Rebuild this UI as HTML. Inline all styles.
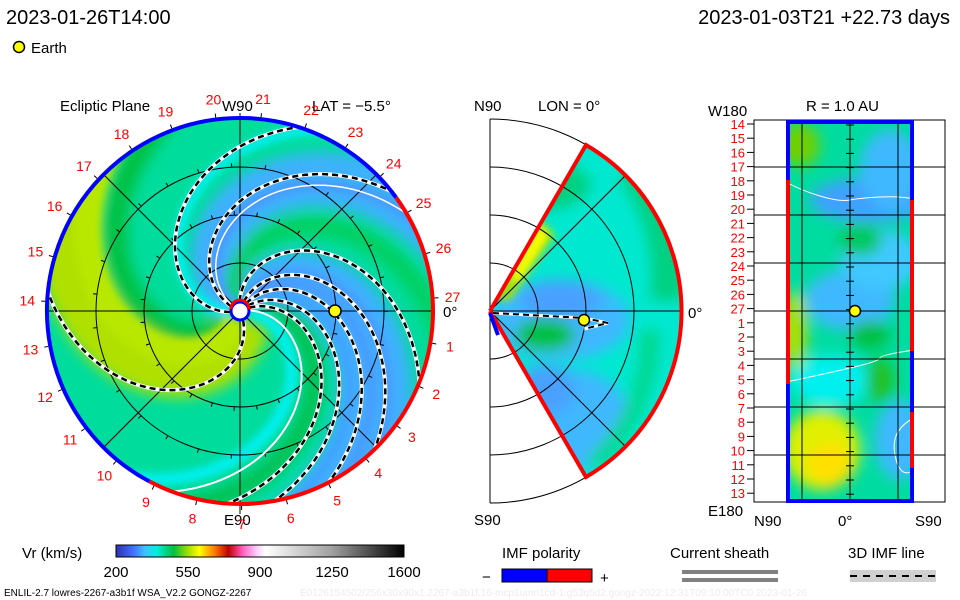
<!DOCTYPE html>
<html><head><meta charset="utf-8"><style>
html,body{margin:0;padding:0;background:#fff;}
svg{display:block;font-family:"Liberation Sans",sans-serif;}
text{font-family:"Liberation Sans",sans-serif;}
</style></head><body>
<svg id="c" width="960" height="600" viewBox="0 0 960 600" xmlns="http://www.w3.org/2000/svg">
<defs>
<clipPath id="disk"><circle cx="240" cy="311" r="193"/></clipPath>
<clipPath id="wedge"><path d="M490,311 L586,145 A192,192 0 0 1 586,477 Z"/></clipPath>
<clipPath id="rect"><rect x="786" y="121" width="128" height="381"/></clipPath>
<filter id="blur" x="-20%" y="-20%" width="140%" height="140%"><feGaussianBlur stdDeviation="7"/></filter>
<filter id="blur2" x="-20%" y="-20%" width="140%" height="140%"><feGaussianBlur stdDeviation="4"/></filter>
<linearGradient id="cbar" x1="0" x2="1" y1="0" y2="0">
<stop offset="0" stop-color="#3030b0"/><stop offset="0.06" stop-color="#4070ff"/><stop offset="0.1" stop-color="#40c0ff"/>
<stop offset="0.14" stop-color="#00f0e0"/><stop offset="0.2" stop-color="#00c040"/><stop offset="0.25" stop-color="#a0e000"/>
<stop offset="0.29" stop-color="#ffff00"/><stop offset="0.34" stop-color="#ff8000"/><stop offset="0.39" stop-color="#c00000"/>
<stop offset="0.44" stop-color="#ff60c0"/><stop offset="0.49" stop-color="#ffd0ff"/><stop offset="0.52" stop-color="#ffffff"/>
<stop offset="0.75" stop-color="#a0a0a0"/><stop offset="1" stop-color="#000000"/></linearGradient>
</defs>

<text x="6" y="24" font-size="20">2023-01-26T14:00</text>
<text x="950" y="24" font-size="20" text-anchor="end">2023-01-03T21 +22.73 days</text>
<circle cx="19" cy="47" r="5.5" fill="#ffff00" stroke="#000" stroke-width="1.5"/>
<text x="31" y="53" font-size="15">Earth</text>

<g>
<text x="60" y="111" font-size="15">Ecliptic Plane</text>
<text x="222" y="111" font-size="15">W90</text>
<text x="312" y="111" font-size="15">LAT = −5.5°</text>
<text x="224" y="525" font-size="15">E90</text>
<text x="443" y="317" font-size="15">0°</text>
<g clip-path="url(#disk)">
<circle cx="240" cy="311" r="193" fill="#00dc9c"/>
<g id="bands" filter="url(#blur)"></g>
<g id="bands2" filter="url(#blur2)"></g>
</g>
<g id="eclgrid"></g>
<g id="spirals" clip-path="url(#disk)"></g>
<g id="rim"></g>
<g id="numlabels"></g>
<circle cx="240" cy="311" r="9" fill="#fff" stroke="#0000ff" stroke-width="3"/>
<path d="M231,309 A9,9 0 0 1 249,309" fill="none" stroke="#f00" stroke-width="3"/>
<circle cx="335" cy="311" r="6" fill="#ffff00" stroke="#000" stroke-width="1.5"/>
</g>

<g>
<text x="474" y="111" font-size="15">N90</text>
<text x="538" y="111" font-size="15">LON = 0°</text>
<text x="474" y="525" font-size="15">S90</text>
<text x="688" y="318" font-size="15">0°</text>
<g clip-path="url(#wedge)">
<rect x="480" y="130" width="220" height="360" fill="#00e8d0"/>
<g filter="url(#blur)">
<ellipse cx="560" cy="320" rx="70" ry="40" fill="#40b8ff"/>
<ellipse cx="570" cy="420" rx="60" ry="50" fill="#40b8ff"/>
<ellipse cx="545" cy="390" rx="30" ry="25" fill="#4aa0ff"/>
<ellipse cx="560" cy="300" rx="40" ry="20" fill="#4aa0ff"/>
<path d="M640,150 A192,192 0 0 1 684,300 L650,300 A160,160 0 0 0 620,180 Z" fill="#00d080"/>
<path d="M660,330 A192,192 0 0 1 600,470 L585,460 A160,160 0 0 0 640,330 Z" fill="#00d890"/>
<ellipse cx="545" cy="335" rx="30" ry="16" fill="#00c040"/>
<ellipse cx="540" cy="185" rx="50" ry="25" fill="#00d080"/>
</g>
<g filter="url(#blur2)">
<path d="M495,300 L540,220 L555,235 L510,300 Z" fill="#a8e000"/>
<path d="M510,280 L540,225 L548,235 L520,280 Z" fill="#ffff00"/>
</g>
</g>
<g id="mergrid"></g>
<path d="M490,311 L586,145 A192,192 0 0 1 586,477 L490,311" fill="none" stroke="#f00" stroke-width="4"/>
<path d="M490,313 L498,335" stroke="#0000ff" stroke-width="4"/>
<path d="M493,313 L584,318 L608,323 L584,329" fill="none" stroke="#fff" stroke-width="3"/>
<path d="M493,313 L584,318 L608,323 L584,329" fill="none" stroke="#000" stroke-width="2" stroke-dasharray="6,4"/>
<circle cx="584" cy="320" r="5.5" fill="#ffff00" stroke="#000" stroke-width="1.5"/>
</g>

<g>
<text x="806" y="111" font-size="15">R = 1.0 AU</text>
<text x="708" y="116" font-size="15">W180</text>
<text x="708" y="516" font-size="15">E180</text>
<text x="754" y="526" font-size="15">N90</text>
<text x="838" y="526" font-size="15">0°</text>
<text x="915" y="526" font-size="15">S90</text>
<g clip-path="url(#rect)">
<rect x="786" y="121" width="128" height="381" fill="#00dca0"/>
<g filter="url(#blur)">
<ellipse cx="870" cy="200" rx="60" ry="22" fill="#40a0ff"/>
<ellipse cx="890" cy="170" rx="30" ry="40" fill="#40b8ff"/>
<ellipse cx="850" cy="300" rx="45" ry="30" fill="#40b8ff"/>
<ellipse cx="880" cy="260" rx="40" ry="30" fill="#40c8ff"/>
<ellipse cx="900" cy="440" rx="25" ry="40" fill="#40b8ff"/>
<ellipse cx="830" cy="380" rx="40" ry="25" fill="#00f0f0"/>
<ellipse cx="870" cy="335" rx="20" ry="14" fill="#00c040"/>
<ellipse cx="880" cy="380" rx="14" ry="22" fill="#20c020"/>
<ellipse cx="800" cy="145" rx="20" ry="22" fill="#70d000"/>
<ellipse cx="795" cy="330" rx="12" ry="40" fill="#b0e000"/>
<ellipse cx="822" cy="450" rx="38" ry="40" fill="#e0f000"/>
<ellipse cx="830" cy="465" rx="22" ry="22" fill="#ffe000"/>
<ellipse cx="860" cy="240" rx="22" ry="16" fill="#00c860"/>
</g>
</g>
<path d="M786,182 Q800,190 820,196 T850,200 T880,197 T914,199" fill="none" stroke="#fff" stroke-width="1"/>
<path d="M786,382 Q820,375 850,368 T880,358 T914,350" fill="none" stroke="#fff" stroke-width="1"/>
<path d="M914,418 Q890,430 895,455 T914,470" fill="none" stroke="#fff" stroke-width="1"/>
<rect x="754" y="120" width="191" height="382" fill="none" stroke="#000" stroke-width="1"/>
<g id="rgrid"></g>
<path d="M788,121 L788,180 M788,384 L788,502 M786,122 L914,122 M786,501 L914,501 M912,121 L912,200 M912,351 L912,412 M912,468 L912,502" stroke="#0000ff" stroke-width="4" fill="none"/>
<path d="M788,180 L788,384 M912,200 L912,351 M912,412 L912,468" stroke="#f00" stroke-width="4" fill="none"/>
<circle cx="855" cy="311" r="5.5" fill="#ffff00" stroke="#000" stroke-width="1.5"/>
<g id="rlabels"></g>
</g>

<g>
<text x="22" y="558" font-size="15">Vr (km/s)</text>
<rect x="116" y="545" width="288" height="12" fill="url(#cbar)" stroke="#000" stroke-width="1"/>
<g id="cbticks"></g>
</g>
<g>
<text x="502" y="558" font-size="15">IMF polarity</text>
<text x="482" y="582" font-size="15">−</text>
<rect x="502" y="569" width="45" height="13" fill="#0000ff" stroke="#000"/>
<rect x="547" y="569" width="45" height="13" fill="#ff0000" stroke="#000"/>
<text x="600" y="583" font-size="15">+</text>
</g>
<g>
<text x="670" y="558" font-size="15">Current sheath</text>
<rect x="682" y="570" width="96" height="4" fill="#808080"/>
<rect x="682" y="578" width="96" height="4" fill="#808080"/>
</g>
<g>
<text x="848" y="558" font-size="15">3D IMF line</text>
<rect x="850" y="570" width="86" height="12" fill="#d0d0d0"/>
<line x1="850" y1="576" x2="936" y2="576" stroke="#000" stroke-width="2" stroke-dasharray="7,6"/>
</g>
<text x="4" y="596" font-size="10">ENLIL-2.7 lowres-2267-a3b1f WSA_V2.2 GONGZ-2267</text>
<text x="300" y="596" font-size="10" fill="#ececec">E0126154502/256x30x90x1.2267-a3b1f.16-mcp1umn1cd-1.g53q5d2.gongz-2022:12:31T09:10:00TC0    2023-01-26</text>
</svg>
<script>
const NS="http://www.w3.org/2000/svg";
const cbTicks=[200,550,900,1250,1600];
const ringRadiiAU=[0.5,1.0,1.5];
const carrLabels=[1,2,3,4,5,6,7,8,9,10,11,12,13,14,15,16,17,18,19,20,21,22,23,24,25,26,27];
const spiralStartDeg=[294,192,158,98,74,57,40,26,9];
const spiralStyle=["dash","dash","whiteDash","dash","dash","dash","dash","dash","white"];
const blueBandStart=[164,144,84,66,50];
const latRows=[14,15,16,17,18,19,20,21,22,23,24,25,26,27,1,2,3,4,5,6,7,8,9,10,11,12,13];

const cx=240,cy=311,R=193,pxPerAU=96,K=0.62;
function P(r,deg){const a=deg*Math.PI/180;return [cx+r*Math.cos(a),cy-r*Math.sin(a)];}
function mk(tag,attrs,parent){const e=document.createElementNS(NS,tag);for(const k in attrs)e.setAttribute(k,attrs[k]);parent.appendChild(e);return e;}
function spiralPath(phi0,r0,r1){let d="";for(let r=r0;r<=r1;r+=3){const p=P(r,phi0-K*r);d+=(d?"L":"M")+p[0].toFixed(1)+","+p[1].toFixed(1);}return d;}

const bands=document.getElementById('bands');
blueBandStart.forEach(s=>{const e=mk('path',{d:spiralPath(s,10,260),stroke:'#40b0ff','stroke-width':26,fill:'none'},bands);

});
[[274,'#b0e000',60],[239,'#00c040',22],[119,'#00d060',20],[20,'#00c050',18]].forEach(b=>{const e=mk('path',{d:spiralPath(b[0],10,300),stroke:b[1],'stroke-width':b[2],fill:'none'},bands);

});
const bands2=document.getElementById('bands2');
[[150,'#4a98ff',10],[76,'#4a98ff',8],[64,'#4a98ff',8],[48,'#40a0ff',8],[259,'#b8e800',26],[189,'#00f0f0',10],[0,'#00f0f0',12]].forEach(b=>{mk('path',{d:spiralPath(b[0],10,300),stroke:b[1],'stroke-width':b[2],fill:'none'},bands2);});

const g=document.getElementById('eclgrid');
ringRadiiAU.forEach(au=>{const e=mk('circle',{cx:cx,cy:cy,r:au*pxPerAU,fill:'none',stroke:'#000','stroke-width':1},g);

});
[0,45,90,135].forEach(a=>{const p1=P(R,a),p2=P(R,a+180);mk('line',{x1:p1[0],y1:p1[1],x2:p2[0],y2:p2[1],stroke:'#000','stroke-width':1},g);});
for(let a=0;a<360;a+=13.33){[96,144].forEach(r=>{const p1=P(r,a),p2=P(r+4,a);mk('line',{x1:p1[0],y1:p1[1],x2:p2[0],y2:p2[1],stroke:'#000'},g);});}
mk('line',{x1:cx,y1:cy-R-5,x2:cx,y2:cy+R+10,stroke:'#000'},g);

const sp=document.getElementById('spirals');
spiralStartDeg.forEach((s,i)=>{const d=spiralPath(s,10,260);
if(spiralStyle[i]!=="white"){mk('path',{d:d,stroke:'#fff','stroke-width':4,fill:'none'},sp);}
const e=mk('path',{d:d,stroke:spiralStyle[i]==="white"?'#fff':'#000','stroke-width':spiralStyle[i]==="white"?2:2.5,fill:'none','stroke-dasharray':spiralStyle[i]==="white"?'none':'6,4'},sp);

});
mk('path',{d:spiralPath(150,10,260),stroke:'#fff','stroke-width':1.5,fill:'none'},sp);

const rim=document.getElementById('rim');
function arc(a0,a1,color){const p0=P(R,a0),p1=P(R,a1);const large=Math.abs(a1-a0)>180?1:0;
const e=mk('path',{d:`M${p0[0]},${p0[1]} A${R},${R} 0 ${large} 0 ${p1[0]},${p1[1]}`,stroke:color,'stroke-width':4,fill:'none'},rim);

}
arc(36,242,'#0000ff');arc(242,396,'#ff0000');

const nl=document.getElementById('numlabels');
carrLabels.forEach(n=>{const a=3.8-13.333*n;const p=P(213,a);const t=mk('text',{x:p[0],y:p[1]+5,'font-size':14,fill:'#ff0000','text-anchor':'middle'},nl);t.textContent=n;


const q1=P(R+2,a),q2=P(R+6,a);mk('line',{x1:q1[0],y1:q1[1],x2:q2[0],y2:q2[1],stroke:'#000'},nl);});

const mg=document.getElementById('mergrid');
const mx=490,my=311;
[48,96,144,192].forEach(r=>{const e=mk('path',{d:`M${mx},${my-r} A${r},${r} 0 0 1 ${mx},${my+r}`,fill:'none',stroke:'#000'},mg);

});
mk('line',{x1:mx,y1:my-192,x2:mx,y2:my+192,stroke:'#000'},mg);
mk('line',{x1:mx,y1:my,x2:mx+192,y2:my,stroke:'#000'},mg);
[45,-45].forEach(a=>{const r=Math.PI*a/180;mk('line',{x1:mx,y1:my,x2:mx+192*Math.cos(r),y2:my-192*Math.sin(r),stroke:'#000'},mg);});

const rg=document.getElementById('rgrid');
[167,215,263,311,359,407,455].forEach(y=>mk('line',{x1:754,y1:y,x2:945,y2:y,stroke:'#000'},rg));
[802,850,898].forEach(x=>mk('line',{x1:x,y1:120,x2:x,y2:502,stroke:'#000'},rg));
for(let y=125;y<502;y+=14.2){mk('line',{x1:846,y1:y,x2:854,y2:y,stroke:'#000'},rg);}
const rl=document.getElementById('rlabels');
latRows.forEach((n,i)=>{const y=124+i*14.2;const t=mk('text',{x:745,y:y+5,'font-size':13,fill:'#ff0000','text-anchor':'end'},rl);t.textContent=n;


mk('line',{x1:747,y1:y,x2:754,y2:y,stroke:'#000'},rl);});

const cb=document.getElementById('cbticks');
const vmin=cbTicks[0],vmax=cbTicks[cbTicks.length-1];
cbTicks.forEach(v=>{const x=116+(v-vmin)/(vmax-vmin)*288;const t=mk('text',{x:x,y:577,'font-size':15,'text-anchor':'middle'},cb);t.textContent=v;

});
</script>
</body></html>
